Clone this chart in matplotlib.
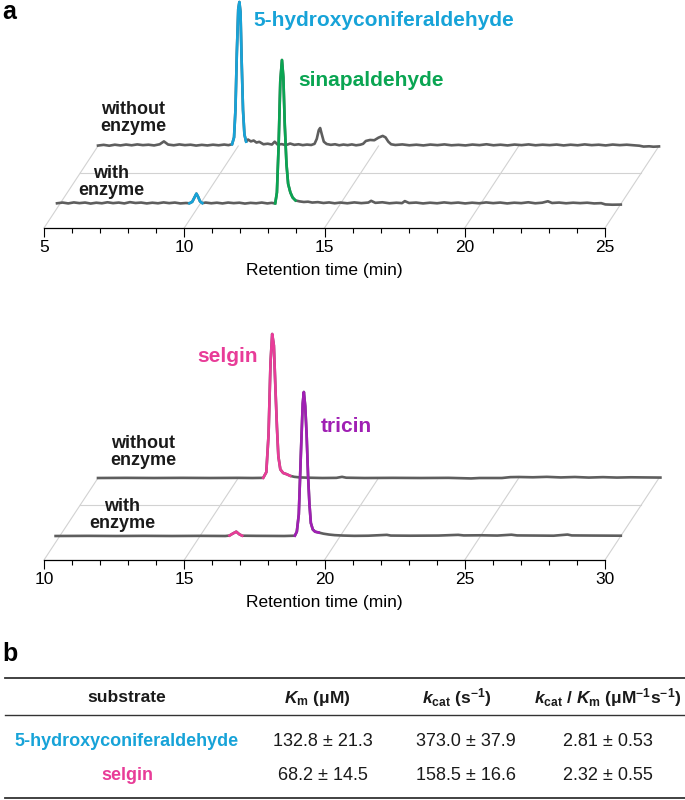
import matplotlib.pyplot as plt

plt.rcParams['font.family'] = ['Liberation Sans', 'DejaVu Sans']
plt.rcParams['mathtext.fontset'] = 'custom'
plt.rcParams['mathtext.rm'] = 'Liberation Sans:bold'
plt.rcParams['mathtext.it'] = 'Liberation Sans:italic:bold'

# ---- colours ----
GRAY = '#5e5e5e'
GRID = '#d2d2d2'
CYAN = '#17a3d8'
GREEN = '#0aa552'
PINK = '#e83c98'
PURPLE = '#a01fb4'

# ---- panel a, top chromatograms (time in min, intensity in % of max peak) ----
top_ticks = [5, 10, 15, 20, 25]
top_without_t = [5.0, 5.2, 5.4, 5.6, 5.8, 6.0, 6.2, 6.4, 6.6, 6.8, 7.0, 7.2, 7.35, 7.5, 7.7, 7.9,
                 8.1, 8.3, 8.5, 8.7, 8.9, 9.1, 9.3, 9.5, 9.65, 9.78, 9.85, 9.9, 9.95, 10.0, 10.04,
                 10.08, 10.12, 10.17, 10.22, 10.28, 10.35, 10.45, 10.55, 10.65, 10.75, 10.9, 11.05,
                 11.2, 11.3, 11.4, 11.55, 11.7, 11.85, 12.0, 12.15, 12.3, 12.45, 12.6, 12.72, 12.8,
                 12.87, 12.92, 12.98, 13.05, 13.15, 13.3, 13.45, 13.6, 13.75, 13.9, 14.05, 14.2,
                 14.35, 14.45, 14.55, 14.7, 14.85, 15.0, 15.15, 15.25, 15.35, 15.45, 15.6, 15.85,
                 16.1, 16.35, 16.6, 16.85, 17.1, 17.35, 17.6, 17.85, 18.1, 18.35, 18.6, 18.85, 19.1,
                 19.35, 19.6, 19.85, 20.1, 20.35, 20.6, 20.85, 21.1, 21.35, 21.6, 21.85, 22.1, 22.35,
                 22.6, 22.85, 23.1, 23.35, 23.6, 23.85, 24.1, 24.3, 24.45, 24.65, 24.8, 25.0]
top_without_y = [0.3, 0.8, 0.2, 0.9, 0.4, 1.0, 0.5, 1.1, 0.6, 0.9, 0.4, 1.2, 3.2, 1.0, 0.5, 1.1,
                 0.6, 0.9, 0.3, 0.8, 0.4, 0.9, 0.5, 1.0, 0.6, 1.2, 6.0, 25.0, 65.0, 95.0, 100.0,
                 93.0, 60.0, 25.0, 8.0, 3.0, 4.5, 3.2, 3.8, 2.4, 2.9, 1.2, 1.6,
                 1.0, 3.0, 1.0, 1.3, 0.6, 1.7, 0.8, 1.2, 0.6, 1.0, 0.7, 1.5, 5.0,
                 11.0, 12.5, 8.0, 3.0, 1.4, 0.8, 1.2, 0.5, 1.0, 0.6, 1.1, 0.5,
                 0.9, 1.5, 3.5, 4.2, 4.0, 5.8, 7.0, 6.0, 3.0, 1.2, 0.7, 1.1,
                 0.5, 0.9, 0.4, 1.0, 0.6, 1.1, 0.5, 0.8, 0.4, 1.0, 0.6, 1.2, 0.5,
                 0.9, 0.4, 1.0, 0.6, 1.1, 0.5, 0.9, 0.6, 1.0, 0.4, 0.9, 0.5, 1.1,
                 0.6, 0.9, 0.4, 1.0, 0.6, 0.9, 0.5, 0.2, -0.4, -0.2, -0.5, -0.3]
top_with_t = [4.9, 5.1, 5.3, 5.5, 5.7, 5.9, 6.1, 6.3, 6.5, 6.7, 6.9, 7.1, 7.3, 7.5, 7.7, 7.9,
              8.1, 8.3, 8.5, 8.7, 8.9, 9.1, 9.3, 9.5, 9.62, 9.72, 9.8, 9.87, 9.93, 10.0, 10.08,
              10.2, 10.4, 10.6, 10.8, 11.0, 11.2, 11.4, 11.6, 11.8, 12.0, 12.2, 12.4, 12.55, 12.68,
              12.74, 12.8, 12.86, 12.92, 12.97, 13.02, 13.08, 13.14, 13.22, 13.3, 13.4, 13.55,
              13.7, 13.85, 14.0, 14.2, 14.4, 14.6, 14.8, 15.0, 15.25, 15.5, 15.75, 16.0, 16.1,
              16.25, 16.5, 16.75, 17.0, 17.2, 17.3, 17.45, 17.7, 17.95, 18.2, 18.45, 18.7, 18.95,
              19.2, 19.45, 19.7, 19.95, 20.2, 20.45, 20.7, 20.95, 21.2, 21.45, 21.7, 21.95, 22.2,
              22.4, 22.55, 22.8, 23.05, 23.3, 23.55, 23.8, 24.05, 24.3, 24.45, 24.7, 25.0]
top_with_y = [0.5, 1.0, 0.4, 1.1, 0.6, 1.0, 0.3, 0.9, 0.5, 1.2, 0.6, 1.0, 0.4, 1.3, 0.7, 1.0,
              0.4, 0.9, 0.5, 1.1, 0.6, 1.0, 0.4, 0.7, 0.5, 1.5, 4.5, 7.2, 5.0, 1.8, 0.6,
              1.0, 0.5, 0.9, 0.4, 1.0, 0.6, 0.9, 0.3, 0.8, 0.5, 1.0, 0.4, 0.8, 0.4,
              8.0, 40.0, 85.0, 100.0, 88.0, 55.0, 28.0, 14.0, 8.0, 4.5, 2.5, 1.8,
              1.4, 1.6, 1.0, 1.3, 0.7, 1.1, 0.5, 1.0, 0.5, 1.1, 0.6, 1.0, 2.2,
              0.8, 1.2, 0.5, 0.9, 0.6, 2.0, 0.7, 1.0, 0.4, 0.9, 0.5, 1.1, 0.6,
              1.0, 0.4, 0.9, 0.5, 1.1, 0.6, 1.0, 0.4, 0.9, 0.6, 1.2, 0.5, 0.9,
              1.9, 0.7, 1.0, 0.5, 0.9, 0.6, 0.9, 0.4, 0.6, -0.3, -0.5, -0.4]

# ---- panel a, bottom chromatograms ----
bot_ticks = [10, 15, 20, 25, 30]
bot_without_t = [10.0, 11.0, 12.0, 13.0, 14.0, 15.0, 15.5, 15.89, 16.0, 16.08, 16.15, 16.21, 16.27,
                 16.33, 16.38, 16.43, 16.5, 16.6, 16.73, 16.85, 17.0, 17.2, 17.5, 18.0, 18.5, 18.7,
                 18.85, 19.5, 20.5, 21.5, 22.5, 23.3, 23.6, 24.4, 24.7, 25.0, 25.5, 26.0, 26.5,
                 27.0, 27.5, 28.0, 28.5, 29.0, 29.5, 30.05]
bot_without_y = [0.0, 0.1, 0.0, 0.1, 0.0, 0.1, 0.0, 0.1, 4.0, 30.0, 80.0, 100.0, 92.0,
                 60.0, 35.0, 15.0, 6.0, 3.5, 2.6, 1.5, 0.8, 0.4, 0.2, 0.0, 0.1, 0.8,
                 0.2, 0.0, 0.1, 0.0, 0.1, -0.3, 0.0, 0.0, 0.6, 0.7, 0.5, 0.8, 0.4,
                 0.7, 0.3, 0.6, 0.3, 0.5, 0.4, 0.3]
bot_with_t = [9.85, 11.0, 12.0, 13.0, 14.0, 15.0, 15.9, 16.05, 16.15, 16.29, 16.4, 16.5, 17.0,
              18.0, 18.38, 18.45, 18.52, 18.6, 18.66, 18.7, 18.75, 18.8, 18.85, 18.9, 18.95,
              19.02, 19.1, 19.23, 19.4, 19.6, 19.8, 20.1, 20.5, 21.0, 21.66, 21.8, 22.5, 23.5,
              24.2, 24.4, 25.0, 25.6, 26.1, 26.3, 27.0, 27.6, 28.1, 28.25, 29.0, 30.0]
bot_with_y = [0.0, 0.1, 0.0, 0.1, 0.0, 0.1, 0.0, 0.3, 1.5, 3.0, 1.2, 0.2, 0.1,
              0.0, 0.2, 3.0, 15.0, 60.0, 92.0, 100.0, 90.0, 70.0, 42.0, 22.0, 9.0,
              4.5, 3.0, 2.4, 1.6, 1.0, 0.6, 0.3, 0.1, 0.2, 0.8, 0.3, 0.2, 0.3,
              0.8, 0.4, 0.5, 0.3, 0.9, 0.4, 0.3, 0.2, 1.0, 0.4, 0.3, 0.2]

# ---- panel b, kinetic table ----
substrates = ['5-hydroxyconiferaldehyde', 'selgin']
substrate_colors = [CYAN, PINK]
km_vals = ['132.8 ± 21.3', '68.2 ± 14.5']
kcat_vals = ['373.0 ± 37.9', '158.5 ± 16.6']
eff_vals = ['2.81 ± 0.53', '2.32 ± 0.55']
headers = ['substrate', r'$\mathit{K}_{\mathrm{m}}$ (μM)', r'$\mathit{k}_{\mathrm{cat}}$ (s$^{\mathrm{-1}}$)',
           r'$\mathit{k}_{\mathrm{cat}}$ / $\mathit{K}_{\mathrm{m}}$ (μM$^{\mathrm{-1}}$s$^{\mathrm{-1}}$)']

# ---- layout (pixels of a 685x800 figure) ----
W, H = 685, 800
PX_PER_MIN = 28.05
PX_PER_UNIT = 1.44
SLANT = 54 / 82
BACK, FRONT, MID = 82, 24, 55
LW = 1.9


def shift(depth):
    return depth * SLANT / PX_PER_MIN, depth / PX_PER_UNIT


def draw_trace(ax, t, y, depth, segments, z):
    dx, dy = shift(depth)
    xs = [v + dx for v in t]
    ys = [v + dy for v in y]
    ax.plot(xs, ys, color=GRAY, lw=LW, clip_on=False, zorder=z, solid_joinstyle='round')
    for lo, hi, col in segments:
        idx = [i for i, v in enumerate(t) if lo <= v <= hi]
        ax.plot([xs[i] for i in idx], [ys[i] for i in idx], color=col, lw=LW,
                clip_on=False, zorder=z + 1, solid_joinstyle='round')


def setup_axes(axis_y, top_y, ticks):
    ax = fig.add_axes([44 / W, 1 - axis_y / H, 561 / W, (axis_y - top_y) / H])
    ax.set_xlim(ticks[0], ticks[-1])
    ax.set_ylim(0, (axis_y - top_y) / PX_PER_UNIT)
    for s in ['top', 'left', 'right']:
        ax.spines[s].set_visible(False)
    ax.spines['bottom'].set_linewidth(0.9)
    ax.set_yticks([])
    ax.set_xticks(ticks)
    ax.set_xticks(range(ticks[0], ticks[-1] + 1), minor=True)
    ax.tick_params(axis='x', which='major', length=6.5, width=0.8, pad=2, labelsize=12.5)
    ax.tick_params(axis='x', which='minor', length=3.8, width=0.8)
    ax.set_xlabel('Retention time (min)', fontsize=12.5, labelpad=6)
    # pseudo-3D floor grid
    dxb, dyb = shift(BACK)
    for tk in ticks:
        ax.plot([tk, tk + dxb], [0, dyb], color=GRID, lw=0.8, clip_on=False, zorder=1)
    dxm, dym = shift(MID)
    ax.plot([ticks[0] + dxm, ticks[-1] + dxm], [dym, dym], color=GRID, lw=0.8, clip_on=False, zorder=1)
    ax.patch.set_visible(False)
    return ax


def ftext(x, y, s, **kw):
    fig.text(x / W, 1 - y / H, s, **kw)


fig = plt.figure(figsize=(6.85, 8.0), dpi=100)

# top chart
ax1 = setup_axes(228, 0, top_ticks)
draw_trace(ax1, top_without_t, top_without_y, BACK, [(9.78, 10.28, CYAN)], 3)
draw_trace(ax1, top_with_t, top_with_y, FRONT, [(9.62, 10.08, CYAN), (12.68, 13.4, GREEN)], 5)

# bottom chart
ax2 = setup_axes(560, 310, bot_ticks)
draw_trace(ax2, bot_without_t, bot_without_y, BACK, [(15.89, 16.85, PINK)], 3)
draw_trace(ax2, bot_with_t, bot_with_y, FRONT, [(16.0, 16.5, PINK), (18.38, 19.23, PURPLE)], 5)

bold = dict(fontweight='bold', va='center')
ftext(253, 20, '5-hydroxyconiferaldehyde', color=CYAN, fontsize=15, ha='left', **bold)
ftext(298, 81, 'sinapaldehyde', color=GREEN, fontsize=15, ha='left', **bold)
ftext(133, 118, 'without\nenzyme', color='#1a1a1a', fontsize=13, ha='center', linespacing=1.05, **bold)
ftext(111, 182, 'with\nenzyme', color='#1a1a1a', fontsize=13, ha='center', linespacing=1.05, **bold)
ftext(197, 357, 'selgin', color=PINK, fontsize=15, ha='left', **bold)
ftext(321, 426, 'tricin', color=PURPLE, fontsize=15, ha='left', **bold)
ftext(143, 452, 'without\nenzyme', color='#1a1a1a', fontsize=13, ha='center', linespacing=1.05, **bold)
ftext(122, 515, 'with\nenzyme', color='#1a1a1a', fontsize=13, ha='center', linespacing=1.05, **bold)

ftext(2, 19, 'a', fontsize=18, ha='left', fontweight='bold', va='baseline')
ftext(2, 661, 'b', fontsize=18, ha='left', fontweight='bold', va='baseline')

# table
axt = fig.add_axes([0, 0, 1, 170 / H])
axt.set_xlim(0, W)
axt.set_ylim(800, 630)
axt.axis('off')
for yy, lw in [(678, 1.3), (715, 1.0), (798, 1.3)]:
    axt.plot([5, W], [yy, yy], color='#333333', lw=lw, clip_on=False)
head_x = [127, 317, 457, 608]
val_x = [127, 323, 466, 608]
for x, h in zip(head_x, headers):
    axt.text(x, 698, h, ha='center', va='center', fontsize=12.5, fontweight='bold', color='#1a1a1a')
for i, row_y in enumerate([742, 775]):
    axt.text(val_x[0], row_y, substrates[i], ha='center', va='center', fontsize=13,
             fontweight='bold', color=substrate_colors[i])
    for x, vals in zip(val_x[1:], [km_vals, kcat_vals, eff_vals]):
        axt.text(x, row_y, vals[i], ha='center', va='center', fontsize=13, color='#1a1a1a')

fig.savefig('out.png', dpi=100)
